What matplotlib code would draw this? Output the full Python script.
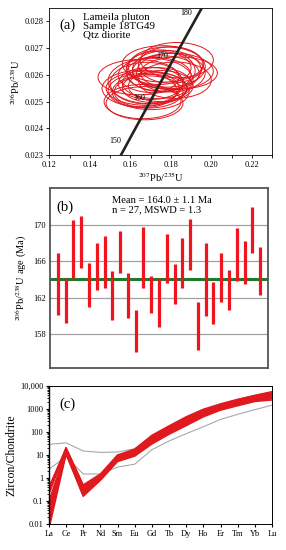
import numpy as np
import matplotlib
matplotlib.use('Agg')
import matplotlib.pyplot as plt
from matplotlib.patches import Ellipse
from matplotlib.ticker import FixedLocator, NullFormatter, LogLocator

plt.rcParams['font.family'] = ['Liberation Serif', 'DejaVu Serif']
plt.rcParams['mathtext.fontset'] = 'stix'

# --- (a) concordia ellipses ---
ell_x = [0.168, 0.166, 0.178, 0.176, 0.170, 0.172, 0.180, 0.165, 0.174, 0.168,
         0.167, 0.175, 0.172, 0.170, 0.181, 0.173, 0.176, 0.180, 0.166, 0.170,
         0.169, 0.182, 0.175, 0.178, 0.184, 0.183, 0.164]
ell_y = [0.02569, 0.02541, 0.02629, 0.02641, 0.02568, 0.02599, 0.02608, 0.02549, 0.02626, 0.02550,
         0.02494, 0.02615, 0.02552, 0.02536, 0.02613, 0.02569, 0.02605, 0.02637, 0.02500, 0.02577,
         0.02536, 0.02580, 0.02558, 0.02619, 0.02607, 0.02655, 0.02591]
ell_w = [0.018, 0.017, 0.019, 0.020, 0.016, 0.018, 0.017, 0.019, 0.016, 0.020,
         0.019, 0.017, 0.016, 0.019, 0.020, 0.017, 0.018, 0.016, 0.019, 0.021,
         0.017, 0.018, 0.016, 0.017, 0.019, 0.018, 0.020]
ell_h = [0.00078, 0.00064, 0.00075, 0.00068, 0.00060, 0.00066, 0.00072, 0.00068, 0.00062, 0.00064,
         0.00062, 0.00078, 0.00056, 0.00066, 0.00068, 0.00058, 0.00066, 0.00068, 0.00064, 0.00085,
         0.00060, 0.00068, 0.00058, 0.00072, 0.00060, 0.00066, 0.00066]
concordia_labels = [150, 160, 170, 180]
LAMBDA_238 = 1.55125e-10
LAMBDA_235 = 9.8485e-10

# --- (b) weighted mean ages ---
ages = [163.47, 161.7, 167.3, 168.1, 163.4, 165.4, 165.95, 162.2, 167.05, 162.25,
        158.35, 166.4, 162.36, 161.4, 166.3, 163.5, 165.8, 167.8, 158.9, 164.0,
        161.4, 164.2, 162.8, 166.7, 165.85, 169.4, 164.9]
age_err = [3.37, 2.5, 3.2, 2.8, 2.4, 2.6, 2.85, 2.7, 2.3, 2.45,
           2.25, 3.3, 2.0, 2.6, 2.7, 2.2, 2.7, 2.8, 2.6, 4.0,
           2.3, 2.7, 2.2, 2.9, 2.35, 2.5, 2.6]
mean_age = 164.0

# --- (c) REE patterns ---
ree = ['La', 'Ce', 'Pr', 'Nd', 'Sm', 'Eu', 'Gd', 'Tb', 'Dy', 'Ho', 'Er', 'Tm', 'Yb', 'Lu']
ree_red = [
    [0.006, 11, 0.16, 0.80, 5.2, 9.0, 30, 80, 190, 460, 900, 1400, 2150, 2500],
    [0.02, 12, 0.19, 0.85, 5.8, 9.5, 34, 90, 210, 500, 960, 1500, 2300, 2800],
    [0.05, 13, 0.24, 0.90, 6.2, 10, 38, 100, 235, 540, 1020, 1600, 2450, 3100],
    [0.1, 15, 0.30, 1.00, 6.8, 11, 42, 110, 260, 590, 1100, 1720, 2600, 3400],
    [0.009, 13, 0.22, 0.90, 7.2, 12, 46, 118, 280, 630, 1170, 1820, 2750, 3650],
    [0.3, 17, 0.35, 1.10, 7.6, 13, 50, 126, 300, 670, 1240, 1920, 2900, 3850],
    [0.03, 15, 0.28, 1.05, 8.0, 13.5, 53, 134, 320, 710, 1300, 2020, 3050, 4050],
    [0.015, 12, 0.18, 0.85, 8.4, 14, 56, 142, 340, 750, 1360, 2120, 3200, 4300],
    [0.2, 18, 0.40, 1.25, 8.8, 15, 59, 150, 360, 790, 1420, 2220, 3350, 4550],
    [0.07, 16, 0.33, 1.15, 9.0, 15.5, 62, 158, 380, 830, 1480, 2320, 3500, 4800],
    [0.4, 20, 0.45, 1.35, 9.4, 16.5, 65, 166, 400, 870, 1540, 2420, 3650, 5050],
    [0.012, 14, 0.24, 0.95, 9.6, 17, 68, 175, 425, 920, 1600, 2550, 3800, 5350],
    [0.25, 21, 0.50, 1.50, 10, 18, 72, 185, 460, 980, 1680, 2650, 3950, 5700],
    [0.04, 13, 0.20, 0.90, 6.5, 10.5, 36, 95, 222, 520, 990, 1550, 2400, 2950],
]
ree_gray = [
    [29, 34, 15, 13, 13.5, 19, 63, 150, 350, 800, 1500, 2500, 3800, 5500],
    [2.4, 8.5, 1.5, 1.5, 3.0, 4.0, 17, 41, 85, 170, 355, 590, 940, 1480],
]

RED = '#e0191f'
fig = plt.figure(figsize=(2.86, 5.5), dpi=100)

# ---------- panel (a) ----------
ax1 = fig.add_axes([0.173, 0.718, 0.778, 0.2675])
for x, y, w, h in zip(ell_x, ell_y, ell_w, ell_h):
    ax1.add_patch(Ellipse((x, y), 2 * w, 2 * h, fill=False, ec=RED, lw=0.7))
t = np.linspace(140e6, 190e6, 200)
ax1.plot(np.exp(LAMBDA_235 * t) - 1, np.exp(LAMBDA_238 * t) - 1, color='#222222', lw=1.9, zorder=5)
for a in concordia_labels:
    ta = a * 1e6
    ax1.text(np.exp(LAMBDA_235 * ta) - 1 - 0.0035, np.exp(LAMBDA_238 * ta) - 1,
             str(a), fontsize=5.8, ha='right', va='center', zorder=6)
ax1.set_xlim(0.12, 0.23)
ax1.set_ylim(0.023, 0.0285)
ax1.set_xticks([0.12, 0.14, 0.16, 0.18, 0.20, 0.22])
ax1.set_xticklabels(['0.12', '0.14', '0.16', '0.18', '0.20', '0.22'])
ax1.xaxis.set_minor_locator(FixedLocator([0.13, 0.15, 0.17, 0.19, 0.21, 0.23]))
ax1.set_yticks([0.023, 0.024, 0.025, 0.026, 0.027, 0.028])
ax1.set_yticklabels(['0.023', '0.024', '0.025', '0.026', '0.027', '0.028'])
ax1.tick_params(labelsize=6, length=2.5, width=0.6, pad=1.5)
ax1.tick_params(which='minor', length=2.5, width=0.6)
for s in ax1.spines.values():
    s.set_linewidth(0.6)
ax1.set_xlabel(r'$^{207}$Pb/$^{235}$U', fontsize=7.5, labelpad=1)
ax1.set_ylabel(r'$^{206}$Pb/$^{238}$U', fontsize=7.5, labelpad=2)
ax1.text(0.045, 0.93, '(a)', transform=ax1.transAxes, fontsize=10.5, va='top')
ax1.text(0.15, 0.965, 'Lameila pluton\nSample 18TG49\nQtz diorite',
         transform=ax1.transAxes, fontsize=7.8, va='top', linespacing=0.95)

# ---------- panel (b) ----------
ax2 = fig.add_axes([0.175, 0.331, 0.762, 0.327])
idx = np.arange(1, len(ages) + 1)
for g in [158, 162, 166, 170]:
    ax2.axhline(g, color='#a0a0a0', lw=0.9, zorder=1)
ax2.axhline(mean_age, color='#1f7a2e', lw=2.2, zorder=2)
lo = np.array(ages) - np.array(age_err)
hi = np.array(ages) + np.array(age_err)
ax2.vlines(idx, lo, hi, color='#f0141e', lw=2.3, zorder=3)
ax2.set_xlim(0, 28)
ax2.set_ylim(154.3, 174)
ax2.set_xticks([])
ax2.set_yticks([158, 162, 166, 170])
ax2.tick_params(labelsize=6, length=0, pad=3)
for s in ax2.spines.values():
    s.set_linewidth(1.3)
    s.set_color('#555555')
ax2.set_ylabel(r'$^{206}$Pb/$^{238}$U age (Ma)', fontsize=7.5, labelpad=3)
ax2.text(0.03, 0.93, '(b)', transform=ax2.transAxes, fontsize=10.5, va='top')
ax2.text(0.285, 0.955, 'Mean = 164.0 \u00b1 1.1 Ma\nn = 27, MSWD = 1.3',
         transform=ax2.transAxes, fontsize=7.6, va='top', linespacing=1.0)

# ---------- panel (c) ----------
ax3 = fig.add_axes([0.171, 0.0473, 0.78, 0.2507])
xr = np.arange(len(ree))
for row in ree_gray:
    ax3.plot(xr, row, color='#a8a8a8', lw=0.8, zorder=1)
for row in ree_red:
    ax3.plot(xr, row, color=RED, lw=1.1, zorder=2)
ax3.set_yscale('log')
ax3.set_ylim(0.01, 10000)
ax3.set_xlim(0, len(ree) - 1)
ax3.set_xticks(xr)
ax3.set_xticklabels(ree)
ax3.set_yticks([0.01, 0.1, 1, 10, 100, 1000, 10000])
ax3.set_yticklabels(['0.01', '0.1', '1', '10', '100', '1000', '10,000'])
ax3.yaxis.set_minor_locator(LogLocator(base=10, subs=np.arange(2, 10)))
ax3.yaxis.set_minor_formatter(NullFormatter())
ax3.tick_params(labelsize=6, length=2.5, width=0.8, pad=1.5)
ax3.tick_params(which='minor', length=1.5, width=0.6)
for s in ax3.spines.values():
    s.set_linewidth(0.7)
ax3.spines['left'].set_linewidth(1.0)
ax3.set_ylabel('Zircon/Chondrite', fontsize=8.5, labelpad=2)
ax3.text(0.045, 0.92, '(c)', transform=ax3.transAxes, fontsize=10.5, va='top')

fig.savefig('out.png', dpi=100)
